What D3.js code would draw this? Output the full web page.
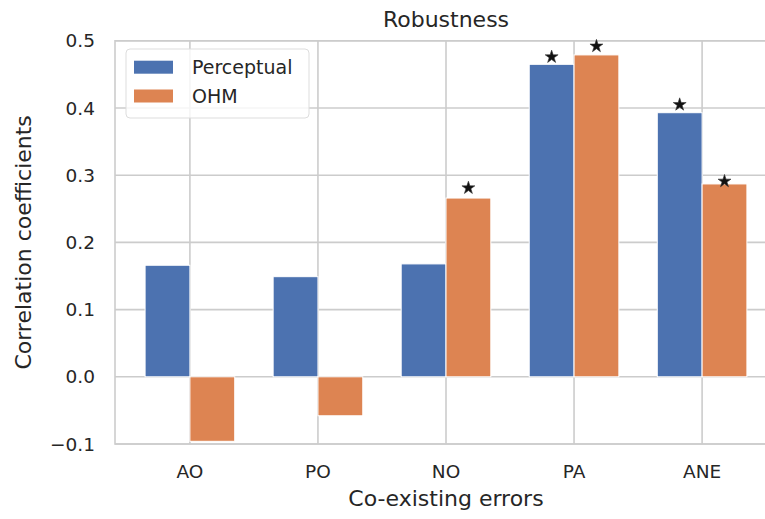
<!DOCTYPE html>
<meta charset="UTF-8">
<style>
body { margin: 0; background: #fff; }
svg { display: block; font-family: "DejaVu Sans", sans-serif; }
.grid line { stroke: #cccccc; stroke-width: 1.6px; }
text { fill: #262626; }
</style>
<body>
<script src="https://cdnjs.cloudflare.com/ajax/libs/d3/7.8.5/d3.min.js"></script>
<script>
// data
const categories = ["AO", "PO", "NO", "PA", "ANE"];
const seriesNames = ["Perceptual", "OHM"];
const perceptual = [0.166, 0.149, 0.168, 0.465, 0.393];
const ohm = [-0.096, -0.058, 0.266, 0.479, 0.287];
// significance stars: [category index, series index, star level]
const stars = [[2, 1, 0.281], [3, 0, 0.476], [3, 1, 0.492], [4, 0, 0.405], [4, 1, 0.291]];
const yTicks = [-0.1, 0.0, 0.1, 0.2, 0.3, 0.4, 0.5];
const colors = ["#4c72b0", "#dd8452"];

const W = 765, H = 519;
const plot = {left: 115, right: 777, top: 40.8, bottom: 444};
const barW = 0.35;

const svg = d3.select("body").append("svg")
    .attr("width", W)
    .attr("height", H);

// x is continuous so the matplotlib style margins can be kept
const x = d3.scaleLinear()
    .domain([-0.585, categories.length - 1 + 0.585])
    .range([plot.left, plot.right]);
const y = d3.scaleLinear()
    .domain([-0.1, 0.5])
    .range([plot.bottom, plot.top]);

// grid
const grid = svg.append("g").attr("class", "grid");
grid.selectAll("line.h")
    .data(yTicks)
    .join("line")
    .attr("class", "h")
    .attr("x1", plot.left).attr("x2", plot.right)
    .attr("y1", d => y(d)).attr("y2", d => y(d));
grid.selectAll("line.v")
    .data(categories)
    .join("line")
    .attr("class", "v")
    .attr("x1", (d, i) => x(i)).attr("x2", (d, i) => x(i))
    .attr("y1", plot.top).attr("y2", plot.bottom);

// spines
svg.append("rect")
    .attr("x", plot.left).attr("y", plot.top)
    .attr("width", plot.right - plot.left)
    .attr("height", plot.bottom - plot.top)
    .attr("fill", "none")
    .attr("stroke", "#cccccc")
    .attr("stroke-width", 1.6);

// bars
const series = [perceptual, ohm];
series.forEach(function(vals, s) {
  const offset = s === 0 ? -barW : 0;
  svg.append("g")
    .selectAll("rect")
    .data(vals)
    .join("rect")
      .attr("x", (d, i) => x(i + offset))
      .attr("width", x(barW) - x(0))
      .attr("y", d => y(Math.max(0, d)))
      .attr("height", d => Math.abs(y(d) - y(0)))
      .attr("fill", colors[s])
      .attr("stroke", "#fff")
      .attr("stroke-width", 1);
});

// stars
svg.append("g")
  .selectAll("path")
  .data(stars)
  .join("path")
    .attr("d", d3.symbol(d3.symbolStar, 52))
    .attr("transform", d => {
      const cx = x(d[0] + (d[1] === 0 ? -barW / 2 : barW / 2));
      return "translate(" + cx + "," + y(d[2]) + ")";
    })
    .attr("fill", "#111")
    .attr("stroke", "#333")
    .attr("stroke-width", 0.6);

// y tick labels
svg.append("g")
  .selectAll("text")
  .data(yTicks)
  .join("text")
    .attr("x", plot.left - 20)
    .attr("y", d => y(d))
    .attr("dy", "0.36em")
    .attr("text-anchor", "end")
    .style("font-size", "18.5px")
    .text(d => d3.format(".1f")(d).replace("-", "\u2212"));

// x tick labels
svg.append("g")
  .selectAll("text")
  .data(categories)
  .join("text")
    .attr("x", (d, i) => x(i))
    .attr("y", 478)
    .attr("text-anchor", "middle")
    .style("font-size", "18.5px")
    .text(d => d);

const midX = (plot.left + plot.right) / 2;

// titles
svg.append("text")
    .attr("x", midX).attr("y", 27)
    .attr("text-anchor", "middle")
    .style("font-size", "22px")
    .text("Robustness");

svg.append("text")
    .attr("x", midX).attr("y", 506)
    .attr("text-anchor", "middle")
    .style("font-size", "22px")
    .text("Co-existing errors");

svg.append("text")
    .attr("transform", "translate(31," + (plot.top + plot.bottom) / 2 + ") rotate(-90)")
    .attr("text-anchor", "middle")
    .style("font-size", "22px")
    .text("Correlation coefficients");

// legend
const legend = svg.append("g");
legend.append("rect")
    .attr("x", 126).attr("y", 49)
    .attr("width", 183).attr("height", 69)
    .attr("rx", 4)
    .attr("fill", "#fff").attr("fill-opacity", 0.8)
    .attr("stroke", "#dddddd").attr("stroke-width", 1);
const items = legend.selectAll("g.item")
    .data(seriesNames)
    .join("g")
    .attr("class", "item")
    .attr("transform", (d, i) => "translate(134," + (60.7 + i * 28.8) + ")");
items.append("rect")
    .attr("width", 39).attr("height", 13)
    .attr("fill", (d, i) => colors[i]);
items.append("text")
    .attr("x", 58).attr("y", 13.5)
    .style("font-size", "19px")
    .text(d => d);
</script>
</body>
